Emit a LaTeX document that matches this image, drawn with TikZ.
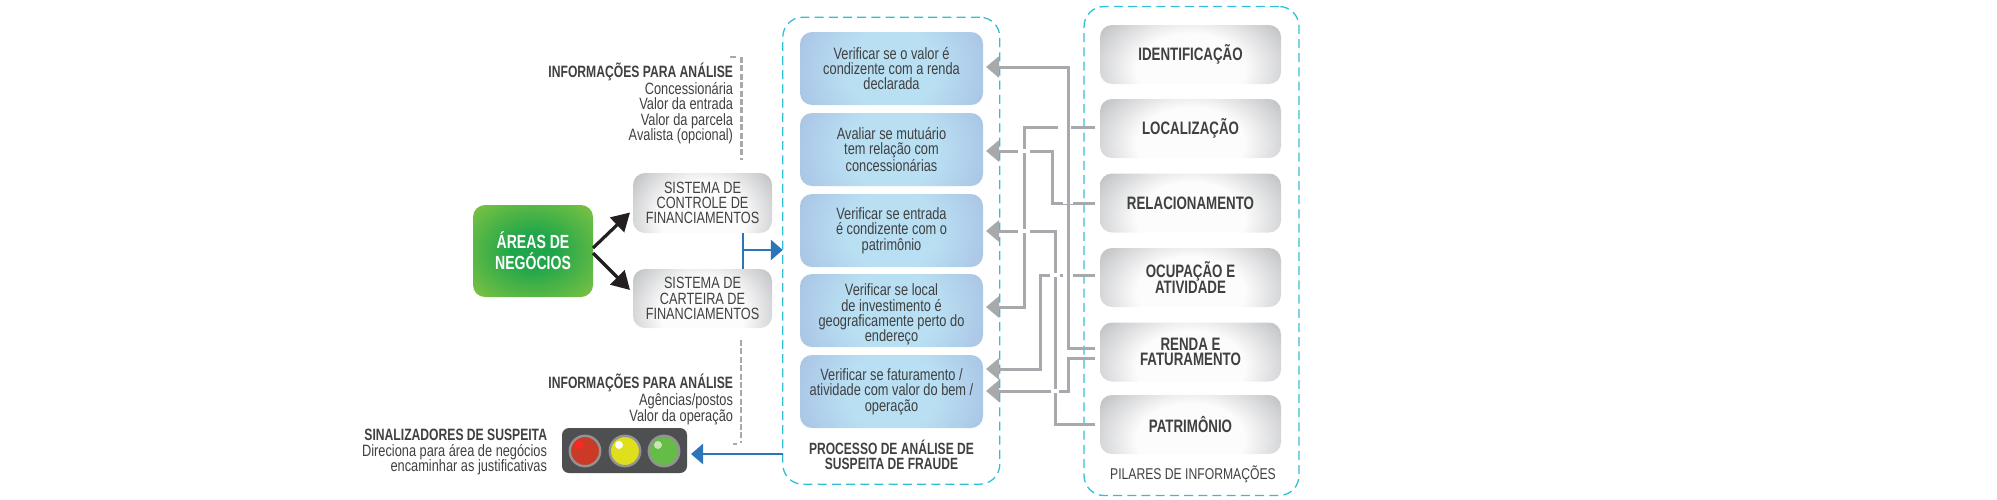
\documentclass[tikz,border=0pt]{standalone}
\usepackage{fontspec}
\setmainfont[FakeStretch=0.78]{Liberation Sans}
\newfontfamily\hdfont[FakeStretch=0.74]{Liberation Sans Bold}
\usetikzlibrary{arrows.meta,shapes.geometric}
\definecolor{txt}{HTML}{3F4042}
\definecolor{conn}{HTML}{A7A9AC}
\definecolor{dash}{HTML}{2FC0D8}
\definecolor{bluea}{HTML}{2B75BA}
\definecolor{blk}{HTML}{231F20}
\definecolor{lightgrn}{HTML}{76C043}
\definecolor{darkgrn}{HTML}{1FA64A}
\definecolor{lblue}{HTML}{B9DFF2}
\definecolor{dblue}{HTML}{A9C4E5}
\definecolor{ddblue}{HTML}{A0B9DF}
\definecolor{lgray}{HTML}{FCFCFC}
\definecolor{mgray}{HTML}{CCCDCF}
\definecolor{dgray}{HTML}{BBBCBE}
\pgfdeclareradialshading{grayrad}{\pgfpoint{0bp}{0bp}}{color(0bp)=(lgray);color(24bp)=(lgray);color(44bp)=(mgray);color(50bp)=(dgray)}
\pgfdeclareradialshading{bluerad}{\pgfpoint{0bp}{0bp}}{color(0bp)=(lblue);color(20bp)=(lblue);color(44bp)=(dblue);color(50bp)=(ddblue)}
\pgfdeclareradialshading{greenrad}{\pgfpoint{0bp}{0bp}}{color(0bp)=(darkgrn);color(9bp)=(darkgrn);color(33bp)=(lightgrn);color(50bp)=(lightgrn)}
\tikzset{
  x=0.5pt,y=-0.5pt,
  every node/.style={inner sep=0pt,outer sep=0pt,text=txt,font=\fontsize{8.2}{7.65}\selectfont,align=center},
  shadepic/.style n args={4}{path picture={\node[transform shape,xscale=#2,yscale=#3,anchor=center,inner sep=0pt,outer sep=0pt] at ([yshift=#4]path picture bounding box.center) {\pgfuseshading{#1}};}},
  graybox/.style={rounded corners=6pt,shadepic={grayrad}{#1}{0.75}{-7.5pt}},
  bluebox/.style={rounded corners=6pt,shadepic={bluerad}{1.14}{1.0}{0pt}},
  greenbox/.style={rounded corners=6pt,shading=greenrad},
  dashbox/.style={draw=dash,line width=0.65pt,dash pattern=on 4.5pt off 2.6pt,rounded corners=10pt},
  link/.style={draw=conn,line width=1.5pt,-{Triangle[length=6.5pt,width=10.5pt,fill=conn]},shorten >=1.5pt},
  gapline/.style={draw=white,line width=2.2pt},
  dashg/.style={draw=conn,line width=1.4pt,dash pattern=on 3pt off 1.2pt},
  blackarrow/.style={draw=blk,line width=1.6pt,-{Triangle[length=9pt,width=10pt,fill=blk]}},
  bluearrow/.style={draw=bluea,line width=1.4pt,-{Triangle[length=6pt,width=10pt,fill=bluea]}},
  pil/.style={font=\fontsize{9}{7.4}\selectfont\hdfont},
  sys/.style={font=\fontsize{8.15}{7.65}\selectfont},
  lk/.style={link,shorten <=2.5pt},
}
\newcommand{\hdline}[1]{{\fontsize{8.2}{7.65}\selectfont\hdfont #1}}
\begin{document}
\begin{tikzpicture}
\useasboundingbox (0,0) rectangle (1997,499);
% dashed frames
\node[dashbox,minimum width=108.5pt,minimum height=233.5pt] (proc) at (891.3,250.7) {};
\node[dashbox,minimum width=107.5pt,minimum height=244.5pt] (pilar) at (1191.5,251) {};
% left part
\node[greenbox,minimum width=60pt,minimum height=46pt,font=\fontsize{9.5}{10.5}\selectfont\hdfont,text=white] (areas) at (533,251) {ÁREAS DE\\NEGÓCIOS};
\node[graybox=0.865,sys,minimum width=69.5pt,minimum height=30pt] (sc) at (702.5,203) {SISTEMA DE\\CONTROLE DE\\FINANCIAMENTOS};
\node[graybox=0.865,sys,minimum width=69.5pt,minimum height=29.5pt] (sf) at (702.5,298.5) {SISTEMA DE\\CARTEIRA DE\\FINANCIAMENTOS};
\coordinate (a1) at (593,248);
\coordinate (a2) at (593,253);
\coordinate (a1t) at (630,212.5);
\coordinate (a2t) at (630,290);
\draw[blackarrow] (a1) -- (a1t);
\draw[blackarrow] (a2) -- (a2t);
% blue T
\coordinate (bj) at (743,250);
\draw[draw=bluea,line width=1.4pt] (sc.south -| bj) -- (sf.north -| bj);
\draw[bluearrow] (bj) -- (proc.west |- bj);
% upper text and dashed line
\node[anchor=north east,align=right] (info1) at (733,62.5) {\hdline{INFORMAÇÕES PARA ANÁLISE}\\Concessionária\\Valor da entrada\\Valor da parcela\\Avalista (opcional)};
\coordinate (d1a) at (730,57);
\coordinate (d1e) at (738,57);
\coordinate (d1b) at (741.7,57);
\coordinate (d1c) at (741.7,160);
\draw[dashg] (d1a) -- (d1e);
\draw[dashg] (d1b) -- (d1c);
% lower text
\node[anchor=north east,align=right] (info2) at (733,374) {\hdline{INFORMAÇÕES PARA ANÁLISE}\\Agências/postos\\Valor da operação};
\coordinate (d2a) at (741,340);
\coordinate (d2b) at (741,443);
\coordinate (d2c) at (733,444);
\coordinate (d2d) at (737,444);
\draw[dashg] (d2a) -- (d2b);
\draw[dashg,line width=1pt] (d2d) -- (d2c);
% traffic light
\node[minimum width=62.5pt,minimum height=22.5pt,fill=txt!92!white,rounded corners=3.5pt] (sem) at (624.5,450.5) {};
\foreach \n/\cx/\col in {r/585/CB3A26,y/625/DFE01B,g/664/65BC46}{
  \definecolor{lc}{HTML}{\col}
  \node[circle,minimum size=15.2pt,fill=lc,draw=gray!85!white,line width=1.2pt] (l\n) at (\cx,451) {};
}
\fill[red!85!white] (579,445) circle (2pt);
\fill[white] (619,445) circle (2pt);
\fill[white!60!lightgrn] (658,445) circle (2pt);
\node[anchor=north east,align=right] (sin) at (547,429.5) {\hdline{SINALIZADORES DE SUSPEITA}\\Direciona para área de negócios\\encaminhar as justificativas};
\coordinate (bl) at (700,454);
\draw[bluearrow] (proc.west |- bl) -- ([xshift=2pt]sem.east |- bl);
% process boxes
\node[bluebox,minimum width=91.5pt,minimum height=36.5pt] (b1) at (891.5,68.5) {Verificar se o valor é\\condizente com a renda\\declarada};
\node[bluebox,minimum width=91.5pt,minimum height=36.5pt] (b2) at (891.5,149.5) {Avaliar se mutuário\\tem relação com\\concessionárias};
\node[bluebox,minimum width=91.5pt,minimum height=36.5pt] (b3) at (891.5,230.5) {Verificar se entrada\\é condizente com o\\patrimônio};
\node[bluebox,minimum width=91.5pt,minimum height=36.5pt] (b4) at (891.5,310.5) {\rule{0pt}{10pt}Verificar se local\\de investimento é\\geograficamente perto do\\endereço};
\node[bluebox,minimum width=91.5pt,minimum height=36.5pt] (b5) at (891.5,391.5) {Verificar se faturamento /\\atividade com valor do bem /\\operação};
\node[font=\fontsize{8.15}{7.65}\selectfont\hdfont] (ptitle) at (891.5,455) {PROCESSO DE ANÁLISE DE\\SUSPEITA DE FRAUDE};
% pillars
\node[graybox=1.125,pil,minimum width=90.5pt,minimum height=29.5pt] (p1) at (1190.5,54.5) {IDENTIFICAÇÃO};
\node[graybox=1.125,pil,minimum width=90.5pt,minimum height=29.5pt] (p2) at (1190.5,128.5) {LOCALIZAÇÃO};
\node[graybox=1.125,pil,minimum width=90.5pt,minimum height=29.5pt] (p3) at (1190.5,203) {RELACIONAMENTO};
\node[graybox=1.125,pil,minimum width=90.5pt,minimum height=29.5pt] (p4) at (1190.5,277.5) {OCUPAÇÃO E\\[-1pt]ATIVIDADE};
\node[graybox=1.125,pil,minimum width=90.5pt,minimum height=29.5pt] (p5) at (1190.5,352) {RENDA E\\FATURAMENTO};
\node[graybox=1.125,pil,minimum width=90.5pt,minimum height=29.5pt] (p6) at (1190.5,424.5) {PATRIMÔNIO};
\node[font=\fontsize{7.8}{7.65}\selectfont] (ptitle2) at (1193,474) {PILARES DE INFORMAÇÕES};
% connectors
\coordinate (c2) at (1024,307);
\coordinate (c3) at (1052.7,151);
\coordinate (c6) at (1055,231);
\coordinate (c4) at (1040,369);
\coordinate (c5b) at (1068,391);
\coordinate (c5a) at (1068,67);
\draw[lk] ([yshift=0.75pt]p2.west) -| (c2) -- (b4.east |- c2);
\coordinate (g1a) at (1058,127); \coordinate (g1b) at (1071,127);
\draw[gapline] (g1a) -- (g1b);
\draw[lk] (p3.west) -| (c3) -- (b2.east |- c3);
\coordinate (g2a) at (1018,151); \coordinate (g2b) at (1030,151);
\coordinate (g3a) at (1063,202); \coordinate (g3b) at (1073,202);
\draw[gapline] (g2a) -- (g2b);
\draw[gapline] (g3a) -- (g3b);
\draw[lk] (p6.west) -| (c6) -- (b3.east |- c6);
\coordinate (g4a) at (1018,231); \coordinate (g4b) at (1030,231);
\draw[gapline] (g4a) -- (g4b);
\draw[lk] ([yshift=1.25pt]p4.west) -| (c4) -- (b5.east |- c4);
\coordinate (g5a) at (1050,275); \coordinate (g5b) at (1060,275);
\coordinate (g6a) at (1063,275); \coordinate (g6b) at (1073,275);
\draw[gapline] (g5a) -- (g5b);
\draw[gapline] (g6a) -- (g6b);
\draw[lk] ([yshift=-3pt]p5.west) -| (c5b) -- (b5.east |- c5b);
\coordinate (g7a) at (1051,391); \coordinate (g7b) at (1059,391);
\draw[gapline] (g7a) -- (g7b);
\draw[lk] ([yshift=2pt]p5.west) -| (c5a) -- (b1.east |- c5a);
\end{tikzpicture}
\end{document}
